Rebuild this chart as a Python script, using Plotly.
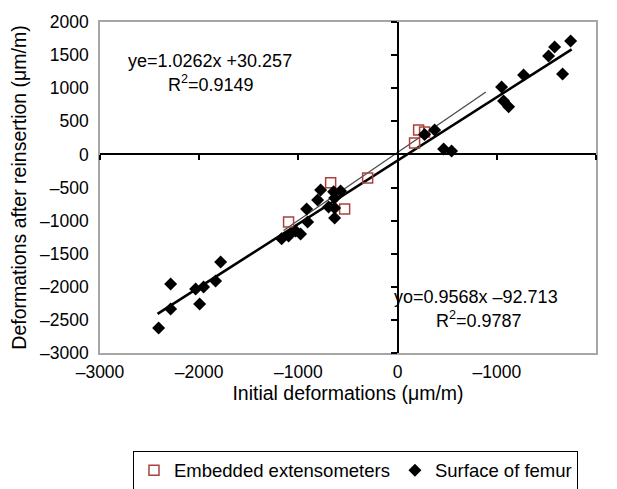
import plotly.graph_objects as go
import numpy as np

# ---- data ----
emb_x = [-1099, -675, -534, -302, 171, 212, 272]
emb_y = [-1020, -430, -823, -355, 174, 370, 340]

surf_x = [-2409, -2288, -2288, -2036, -1956, -1996, -1835, -1784,
          -1169, -1099, -1028, -978, -907, -917, -806, -776, -645, -575,
          -635, -696, -635, -635,
          272, 373, 464, 544, 1048, 1068, 1119, 1270, 1522, 1583, 1663, 1744]
surf_y = [-2621, -2334, -1956, -2032, -2002, -2258, -1911, -1624,
          -1276, -1231, -1156, -1201, -1020, -823, -687, -536, -566, -551,
          -657, -793, -808, -959,
          300, 370, 83, 53, 1020, 808, 718, 1201, 1488, 1624, 1216, 1714]

# trend lines (coefficients shown on the chart)
emb_fit = {"slope": 1.0262, "intercept": 30.257, "xmin": -1150, "xmax": 890}
surf_fit = {"slope": 0.9568, "intercept": -92.713, "xmin": -2420, "xmax": 1755}

x_tickvals = [-3000, -2000, -1000, 0, 1000, 2000]
x_ticktext = ["\u20133000", "\u20132000", "\u20131000", "0", "\u20131000", "\u20132000"]
y_tickvals = [2000, 1500, 1000, 500, 0, -500, -1000, -1500, -2000, -2500, -3000]
y_ticktext = ["2000", "1500", "1000", "500", "0", "\u2013500", "\u20131000",
              "\u20131500", "\u20132000", "\u20132500", "\u20133000"]

FONT = "Liberation Sans, Arial, sans-serif"
RED = "#a8433e"

fig = go.Figure()


def fit_line(f):
    xs = np.array([f["xmin"], f["xmax"]], dtype=float)
    return xs, f["slope"] * xs + f["intercept"]


ex, ey = fit_line(emb_fit)
sx, sy = fit_line(surf_fit)

fig.add_trace(go.Scatter(x=sx, y=sy, mode="lines", line=dict(color="black", width=2.6),
                         showlegend=False, hoverinfo="skip"))
fig.add_trace(go.Scatter(x=ex, y=ey, mode="lines", line=dict(color="#4a4a4a", width=1.3),
                         showlegend=False, hoverinfo="skip"))

fig.add_trace(go.Scatter(x=emb_x, y=emb_y, mode="markers", name="Embedded extensometers",
                         marker=dict(symbol="square-open", size=10, color=RED,
                                     line=dict(width=1.5, color=RED))))
fig.add_trace(go.Scatter(x=surf_x, y=surf_y, mode="markers", name="Surface of femur",
                         marker=dict(symbol="diamond", size=10, color="black")))

# dummy trace so the crossing axes are drawn
fig.add_trace(go.Scatter(x=[None], y=[None], xaxis="x2", yaxis="y2", showlegend=False,
                         hoverinfo="skip"))

fig.add_annotation(x=-1890, y=1412, text="ye=1.0262x +30.257", showarrow=False,
                   font=dict(family=FONT, size=18, color="black"))
fig.add_annotation(x=-1880, y=1065, text="R<sup>2</sup>=0.9149", showarrow=False,
                   font=dict(family=FONT, size=18, color="black"))
fig.add_annotation(x=790, y=-2153, text="yo=0.9568x \u201392.713", showarrow=False,
                   font=dict(family=FONT, size=18, color="black"))
fig.add_annotation(x=820, y=-2500, text="R<sup>2</sup>=0.9787", showarrow=False,
                   font=dict(family=FONT, size=18, color="black"))

box = dict(showline=True, mirror=True, linecolor="#a6a6a6", linewidth=1.5,
           showgrid=False, zeroline=False, ticks="", automargin=False)

fig.update_layout(
    width=617, height=489,
    margin=dict(l=100, r=21, t=22, b=136, autoexpand=False),
    paper_bgcolor="white", plot_bgcolor="white",
    font=dict(family=FONT, size=17, color="black"),
    xaxis=dict(range=[-3000, 2000], tickvals=x_tickvals, ticktext=x_ticktext,
               tickfont=dict(size=17.5), ticklabelstandoff=2,
               title=dict(text="Initial deformations (\u03bcm/m)", font=dict(size=19.5), standoff=6),
               **box),
    yaxis=dict(range=[-3000, 2000], tickvals=y_tickvals, ticktext=y_ticktext,
               tickfont=dict(size=17.5), ticklabelstandoff=6,
               title=dict(text="Deformations after reinsertion (\u03bcm/m)", font=dict(size=19.5), standoff=8),
               **box),
    xaxis2=dict(overlaying="x", anchor="free", position=0.6, range=[-3000, 2000],
                tickvals=x_tickvals, ticks="outside", ticklen=5, tickwidth=1.5, tickcolor="black",
                showticklabels=False, showline=True, linecolor="black", linewidth=2,
                showgrid=False, zeroline=False),
    yaxis2=dict(overlaying="y", anchor="free", position=0.6, range=[-3000, 2000],
                tickvals=y_tickvals, ticks="outside", ticklen=6, tickwidth=1.5, tickcolor="black",
                showticklabels=False, showline=True, linecolor="black", linewidth=2,
                showgrid=False, zeroline=False),
    legend=dict(orientation="h", x=0.0665, y=-0.295, xanchor="left", yanchor="top",
                bordercolor="black", borderwidth=1, bgcolor="white",
                font=dict(size=18.5), itemwidth=30, tracegroupgap=0),
    showlegend=True,
)

fig.write_html("out.html", config={"displayModeBar": False},
               post_script="document.body.style.margin='0';")
